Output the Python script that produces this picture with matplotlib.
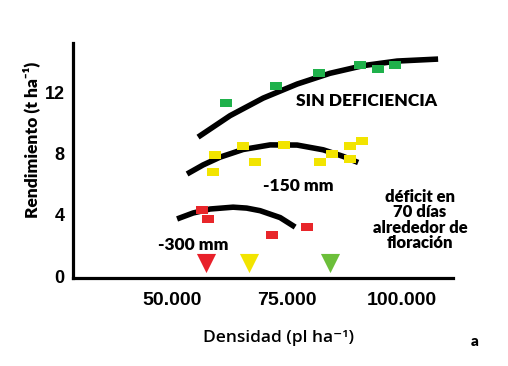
import numpy as np
import matplotlib
matplotlib.use("Agg")
import matplotlib.pyplot as plt

# observed points (density pl/ha, yield t/ha)
green_x = [61700, 72600, 82000, 90900, 94800, 98500]
green_y = [11.3, 12.4, 13.3, 13.8, 13.5, 13.8]
yellow_x = [59350, 58900, 65400, 68000, 74350, 82200, 84800, 88700, 91300, 88700]
yellow_y = [7.9, 6.8, 8.5, 7.45, 8.55, 7.45, 7.95, 8.5, 8.8, 7.65]
red_x = [56500, 57800, 71700, 79350]
red_y = [4.3, 3.75, 2.7, 3.2]

# fitted curves
green_cx = [55650, 62600, 69800, 77200, 84300, 91500, 98900, 107800]
green_cy = [9.08, 10.48, 11.63, 12.55, 13.25, 13.75, 14.05, 14.18]
yellow_cx = [53260, 56740, 60430, 65430, 71300, 77170, 82830, 87170, 90430]
yellow_cy = [6.67, 7.26, 7.77, 8.27, 8.57, 8.56, 8.25, 7.82, 7.42]
red_cx = [51090, 54570, 58260, 63260, 66200, 69130, 73480, 76740]
red_cy = [3.73, 4.12, 4.38, 4.50, 4.44, 4.27, 3.82, 3.20]

# optimum density arrows
tri_x = [57400, 66700, 84300]
tri_colors = ["#e8202a", "#f2e400", "#6cbf3a"]

xticks = [50000, 75000, 100000]
xtick_labels = ["50.000", "75.000", "100.000"]
yticks = [0, 4, 8, 12]

fig = plt.figure(figsize=(5.08, 3.66), dpi=100)
ax = fig.add_axes([0.1437, 0.2404, 0.7485, 0.6421])

rect = [(-1.4, -1), (1.4, -1), (1.4, 1), (-1.4, 1), (-1.4, -1)]

for cx, cy in [(green_cx, green_cy), (yellow_cx, yellow_cy), (red_cx, red_cy)]:
    ax.plot(cx, cy, color="black", lw=4.0, solid_capstyle="butt",
            solid_joinstyle="round", zorder=2)

ax.scatter(green_x, green_y, marker=rect, s=70, color="#1fb14b", zorder=3, linewidths=0)
ax.scatter(yellow_x, yellow_y, marker=rect, s=70, color="#f2e400", zorder=3, linewidths=0)
ax.scatter(red_x, red_y, marker=rect, s=70, color="#e8262a", zorder=3, linewidths=0)

for x, c in zip(tri_x, tri_colors):
    ax.scatter([x], [0.85], marker="v", s=190, color=c, linewidths=0, zorder=3)

ax.set_xlim(28478, 111087)
ax.set_ylim(-0.13, 15.23)
ax.set_xticks(xticks)
ax.set_xticklabels(xtick_labels)
ax.set_yticks(yticks)
for s in ["top", "right"]:
    ax.spines[s].set_visible(False)
for s in ["left", "bottom"]:
    ax.spines[s].set_linewidth(2.3)
ax.tick_params(axis="x", length=0, pad=10)
ax.tick_params(axis="y", length=0, pad=6)
for lab in ax.get_xticklabels() + ax.get_yticklabels():
    lab.set_fontfamily("Liberation Sans")
    lab.set_fontweight("bold")
for lab in ax.get_xticklabels():
    lab.set_fontsize(14)
for lab in ax.get_yticklabels():
    lab.set_fontsize(13)

fam = ["Lato", "DejaVu Sans"]
kw = dict(family=fam, fontweight="heavy", ha="center", va="center", transform=fig.transFigure)
W, H = 508.0, 366.0
fig.text(367 / W, 1 - 101 / H, "SIN DEFICIENCIA", fontsize=12.5, **kw)
fig.text(298 / W, 1 - 186 / H, "-150 mm", fontsize=12.5, **kw)
fig.text(193 / W, 1 - 245 / H, "-300 mm", fontsize=12.5, **kw)
fig.text(420 / W, 1 - 220 / H, "déficit en\n70 días\nalrededor de\nfloración",
         fontsize=12, linespacing=0.95, **kw)
fig.text(31 / W, 1 - 140 / H, "Rendimiento (t ha\u207b\u00b9)", fontsize=12.5,
         rotation=90, **kw)
fig.text(279 / W, 1 - 338 / H, "Densidad (pl ha\u207b\u00b9)", fontsize=12.5,
         family=["Open Sans", "DejaVu Sans"], fontweight="semibold",
         ha="center", va="center", transform=fig.transFigure)
fig.text(475 / W, 1 - 342 / H, "a", fontsize=11, **kw)

fig.savefig("out.png", dpi=100)
